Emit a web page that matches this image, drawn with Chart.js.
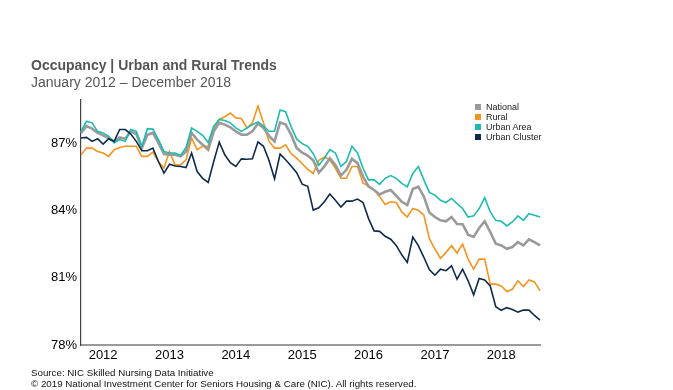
<!DOCTYPE html>
<html>
<head>
<meta charset="utf-8">
<script src="https://cdn.jsdelivr.net/npm/chart.js@4"></script>
<style>
  html, body { margin:0; padding:0; background:#fff; }
  #wrap { position:relative; width:673px; height:390px; font-family:"Liberation Sans", Arial, sans-serif; }
  #c { position:absolute; left:0; top:0; }
  .t { position:absolute; white-space:nowrap; }
  #title { left:31px; top:57px; font-size:14px; font-weight:bold; color:#555; }
  #sub { left:31px; top:74px; font-size:14px; color:#555; }
  #src { left:31px; top:367px; font-size:9.75px; color:#111; }
  #copy { left:31px; top:378px; font-size:9.75px; color:#111; }
  #legend { position:absolute; left:475px; top:102px; font-size:9px; color:#222; }
  #legend div { height:10px; line-height:10px; display:flex; align-items:center; }
  #legend span.sw { display:inline-block; width:6px; height:6px; margin-right:5px; }
</style>
</head>
<body>
<div id="wrap">
  <canvas id="c" width="673" height="390"></canvas>
  <div class="t" id="title">Occupancy | Urban and Rural Trends</div>
  <div class="t" id="sub">January 2012 – December 2018</div>
  <div id="legend"></div>
  <div class="t" id="src">Source: NIC Skilled Nursing Data Initiative</div>
  <div class="t" id="copy">© 2019 National Investment Center for Seniors Housing &amp; Care (NIC). All rights reserved.</div>
</div>
<script>
const years = [2012, 2013, 2014, 2015, 2016, 2017, 2018];
const months = ["Jan","Feb","Mar","Apr","May","Jun","Jul","Aug","Sep","Oct","Nov","Dec"];
const categories = [];
years.forEach(y => months.forEach(m => categories.push(m + " " + y)));

const yTicks = [78, 81, 84, 87];

const national = [
  87.48, 87.78, 87.67, 87.48, 87.37, 87.25, 87.10, 87.28, 87.22, 87.55, 87.43, 86.80,
  87.40, 87.48, 87.03, 86.53, 86.50, 86.50, 86.43, 86.65, 87.48, 87.18, 86.95, 86.73,
  87.55, 87.93, 87.85, 87.73, 87.55, 87.40, 87.40, 87.55, 87.90, 87.70, 87.35, 87.10,
  87.95, 87.85, 87.40, 86.80, 86.60, 86.47, 86.25, 85.70, 85.98, 86.35, 86.05, 85.57,
  85.83, 86.32, 86.13, 85.53, 85.08, 84.93, 84.73, 84.85, 84.93, 84.67, 84.40, 84.25,
  84.97, 85.08, 84.63, 83.92, 83.72, 83.57, 83.53, 83.72, 83.41, 83.40, 82.93, 82.83,
  83.23, 83.53, 83.05, 82.53, 82.45, 82.30, 82.38, 82.60, 82.45, 82.72, 82.60, 82.45
];
const rural = [
  86.50, 86.80, 86.80, 86.65, 86.58, 86.43, 86.73, 86.83, 86.88, 86.88, 86.88, 86.43,
  86.43, 86.62, 86.20, 85.90, 86.65, 86.05, 86.05, 86.28, 87.25, 86.73, 86.88, 86.88,
  87.63, 88.08, 88.20, 88.37, 88.15, 88.12, 87.70, 87.93, 88.68, 87.93, 87.10, 86.80,
  86.80, 86.95, 86.55, 86.35, 86.10, 85.85, 85.67, 86.25, 86.40, 86.28, 85.90, 85.45,
  85.45, 85.98, 85.98, 85.23, 85.12, 84.93, 84.63, 84.28, 84.40, 84.37, 83.95, 83.72,
  84.10, 84.02, 83.80, 82.75, 82.29, 81.87, 82.14, 82.44, 82.11, 82.51, 81.84, 81.39,
  81.84, 81.84, 80.72, 80.72, 80.64, 80.39, 80.49, 80.87, 80.61, 80.91, 80.82, 80.42
];
const urbanArea = [
  87.55, 88.00, 87.93, 87.55, 87.48, 87.33, 87.03, 87.18, 87.10, 87.63, 87.55, 86.88,
  87.67, 87.65, 87.18, 86.65, 86.58, 86.58, 86.47, 86.83, 87.70, 87.55, 87.37, 87.05,
  87.78, 88.08, 88.03, 87.93, 87.70, 87.55, 87.70, 87.85, 87.97, 87.78, 87.55, 87.55,
  88.50, 88.43, 87.75, 87.20, 87.00, 86.88, 86.55, 86.03, 86.35, 86.73, 86.58, 85.98,
  86.20, 86.88, 86.58, 85.90, 85.38, 85.38, 85.18, 85.45, 85.57, 85.45, 85.22, 85.07,
  85.67, 85.98, 85.38, 84.82, 84.70, 84.47, 84.37, 84.55, 84.32, 84.10, 83.72, 83.77,
  84.10, 84.58, 83.95, 83.57, 83.53, 83.32, 83.50, 83.77, 83.57, 83.87, 83.80, 83.72
];
const urbanCluster = [
  87.25, 87.28, 87.10, 87.22, 86.98, 87.22, 87.10, 87.63, 87.63, 87.43, 87.10, 86.68,
  86.68, 86.80, 86.20, 85.68, 86.08, 86.00, 85.98, 85.93, 86.58, 85.75, 85.45, 85.27,
  86.20, 87.07, 86.50, 86.15, 85.98, 86.32, 86.30, 86.32, 87.08, 86.88, 86.25, 85.43,
  86.53, 86.28, 86.00, 85.70, 85.19, 85.09, 84.03, 84.13, 84.40, 84.75, 84.47, 84.17,
  84.43, 84.43, 84.52, 84.37, 83.65, 83.10, 83.08, 82.86, 82.73, 82.45, 82.03, 81.69,
  82.82, 82.44, 81.92, 81.36, 81.12, 81.39, 81.32, 81.54, 80.94, 81.39, 80.87, 80.24,
  80.97, 80.91, 80.64, 79.71, 79.55, 79.67, 79.59, 79.47, 79.56, 79.56, 79.32, 79.11
];

const seriesNames = ["National", "Rural", "Urban Area", "Urban Cluster"];
const seriesData = [national, rural, urbanArea, urbanCluster];
const seriesColors = ["#9a9a9a", "#f7941d", "#1dbcb0", "#0e2a4d"];
const seriesWidths = [2.6, 1.6, 1.6, 1.6];

// HTML legend
const leg = document.getElementById("legend");
seriesNames.forEach((n, i) => {
  const d = document.createElement("div");
  d.innerHTML = '<span class="sw" style="background:' + seriesColors[i] + '"></span>' + n;
  leg.appendChild(d);
});

const datasets = seriesNames.map((n, i) => ({
  label: n,
  data: seriesData[i],
  borderColor: seriesColors[i],
  backgroundColor: seriesColors[i],
  borderWidth: seriesWidths[i],
  pointRadius: 0,
  tension: 0,
  fill: false,
  order: [2, 3, 1, 0][i]
}));

new Chart(document.getElementById("c"), {
  type: "line",
  data: { labels: categories, datasets },
  options: {
    responsive: false,
    animation: false,
    events: [],
    layout: { padding: { top: 100, right: 133, bottom: 0, left: 0 } },
    plugins: { legend: { display: false }, tooltip: { enabled: false } },
    scales: {
      x: {
        type: "category",
        offset: false,
        grid: { display: false, drawTicks: false },
        border: { display: true, color: "#9a9a9a", width: 2 },
        ticks: {
          autoSkip: false,
          maxRotation: 0,
          minRotation: 0,
          padding: 3,
          color: "#000",
          font: { family: "Liberation Sans, Arial", size: 13 },
          callback: function(v, i) {
            return (i % 12 === 4) ? String(years[Math.floor(i / 12)]) : "";
          }
        },
        afterFit: s => { s.height = 45; }
      },
      y: {
        min: 78,
        max: 88.95,
        grid: { display: false, drawTicks: false },
        border: { display: true, color: "#444", width: 1.2 },
        afterBuildTicks: axis => { axis.ticks = yTicks.map(v => ({ value: v })); },
        ticks: {
          padding: 4,
          color: "#000",
          font: { family: "Liberation Sans, Arial", size: 13 },
          callback: v => v + "%"
        },
        afterFit: s => { s.width = 81; }
      }
    }
  }
});
</script>
</body>
</html>
